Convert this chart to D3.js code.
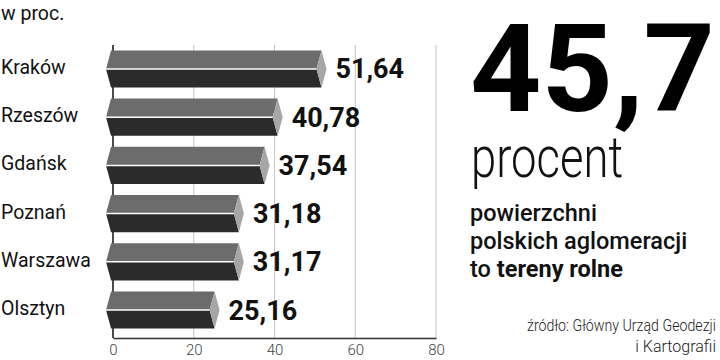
<!DOCTYPE html>
<html>
<head>
<meta charset="utf-8">
<script src="https://cdn.jsdelivr.net/npm/d3@7"></script>
<style>
	body { margin: 0; background: #fff; }
	svg { display: block; font-family: Roboto, 'Open Sans', sans-serif; }
</style>
</head>
<body>
<div id="chart"></div>
<script>
const cities = ['Kraków', 'Rzeszów', 'Gdańsk', 'Poznań', 'Warszawa', 'Olsztyn'];
const shares = [51.64, 40.78, 37.54, 31.18, 31.17, 25.16];
const shareLabels = ['51,64', '40,78', '37,54', '31,18', '31,17', '25,16'];
const xTicks = [0, 20, 40, 60, 80];

const width = 720;
const height = 360;

const svg = d3.select('#chart').append('svg').attr('width', width).attr('height', height);

const xScale = d3.scaleLinear().domain([0, 80]).range([113, 436]);
const yScale = d3.scaleBand().domain(cities).range([41, 338]).paddingInner(0.23).paddingOuter(0.195);
const axisY = 338;

svg.append('text').attr('x', 1).attr('y', 20).attr('font-size', 19.5).attr('fill', '#111').text('w proc.');

// grid
svg
	.append('g')
	.selectAll('line')
	.data(xTicks)
	.enter()
	.append('line')
	.attr('x1', (d) => xScale(d))
	.attr('x2', (d) => xScale(d))
	.attr('y1', 45)
	.attr('y2', axisY)
	.attr('stroke', (d) => (d === 0 ? '#111' : '#c4c4c4'))
	.attr('stroke-width', (d) => (d === 0 ? 1.5 : 1));

const xAxis = d3.axisBottom(xScale).tickValues(xTicks).tickSize(0).tickPadding(6);
const gx = svg.append('g').attr('transform', `translate(0, ${axisY})`).call(xAxis);
gx.select('.domain').attr('stroke', '#333').attr('stroke-width', 1.5);
gx.selectAll('text')
	.attr('font-size', 15)
	.attr('font-weight', 300)
	.attr('fill', '#444')
	.attr('font-family', 'Roboto, sans-serif');

// bars as flat prisms
const bw = yScale.bandwidth();
const rows = svg
	.append('g')
	.selectAll('g')
	.data(cities)
	.enter()
	.append('g')
	.attr('transform', (d) => `translate(0, ${yScale(d)})`);

const x0 = xScale(0) - 2;
const dep = 5;
const mid = bw / 2;

rows
	.append('path')
	.attr('fill', '#6c6c6c')
	.attr('d', (d, i) => {
		let x1 = xScale(shares[i]);
		return `M${x0},0L${x1},0L${x1 - dep},${mid}L${x0 - dep},${mid}Z`;
	});
rows
	.append('path')
	.attr('fill', '#2b2b2b')
	.attr('d', (d, i) => {
		let x1 = xScale(shares[i]);
		return `M${x0 - dep},${mid}L${x1 - dep},${mid}L${x1},${bw}L${x0},${bw}Z`;
	});
rows
	.append('path')
	.attr('fill', '#a6a6a6')
	.attr('d', (d, i) => {
		let x1 = xScale(shares[i]);
		return `M${x1},0L${x1 + dep},${mid}L${x1},${bw}L${x1 - dep},${mid}Z`;
	});
rows
	.append('line')
	.attr('x1', x0 - dep)
	.attr('x2', (d, i) => xScale(shares[i]) - dep)
	.attr('y1', mid)
	.attr('y2', mid)
	.attr('stroke', '#fff')
	.attr('stroke-width', 1.5);

rows
	.append('text')
	.attr('x', 1)
	.attr('y', mid + 5)
	.attr('font-size', 19.5)
	.attr('fill', '#111')
	.text((d) => d);

rows
	.append('text')
	.attr('x', (d, i) => xScale(shares[i]) + 14)
	.attr('y', mid + 9.5)
	.attr('font-size', 27)
	.attr('font-weight', 700)
	.attr('fill', '#111')
	.text((d, i) => shareLabels[i]);

// right-hand annotation
svg
	.append('text')
	.attr('x', 470)
	.attr('y', 111)
	.attr('font-size', 122)
	.attr('font-weight', 700)
	.attr('fill', '#000')
	.attr('textLength', 245)
	.attr('lengthAdjust', 'spacingAndGlyphs')
	.text('45,7');
svg
	.append('text')
	.attr('x', 471)
	.attr('y', 177)
	.attr('font-size', 57)
	.attr('font-weight', 300)
	.attr('fill', '#111')
	.attr('textLength', 152)
	.attr('lengthAdjust', 'spacingAndGlyphs')
	.text('procent');

const lead = svg.append('g').attr('font-size', 23.5).attr('font-weight', 500).attr('fill', '#111');
lead.append('text').attr('x', 470).attr('y', 221).text('powierzchni');
lead.append('text').attr('x', 470).attr('y', 249).text('polskich aglomeracji');
const last = lead.append('text').attr('x', 470).attr('y', 277);
last.append('tspan').text('to ');
last.append('tspan').attr('font-weight', 700).text('tereny rolne');

const src = svg.append('g').attr('font-size', 16).attr('font-weight', 300).attr('fill', '#222').attr('text-anchor', 'end');
src.append('text').attr('x', 716).attr('y', 331).attr('textLength', 189).attr('lengthAdjust', 'spacingAndGlyphs').text('źródło: Główny Urząd Geodezji');
src.append('text').attr('x', 716).attr('y', 352).text('i Kartografii');
</script>
</body>
</html>
